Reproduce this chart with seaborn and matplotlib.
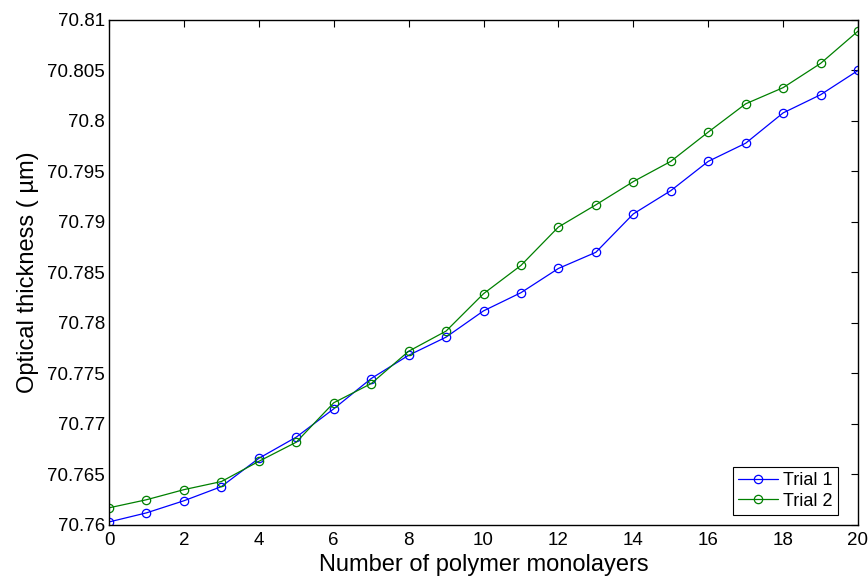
import matplotlib
matplotlib.use("Agg")
import matplotlib.pyplot as plt
import seaborn as sns
import pandas as pd
from matplotlib.ticker import FuncFormatter, MultipleLocator

layers = list(range(21))
trial1 = [70.7603, 70.7612, 70.7624, 70.7638, 70.7666, 70.7687, 70.7715, 70.7745,
          70.7768, 70.7786, 70.7812, 70.7830, 70.7854, 70.7870, 70.7908, 70.7931,
          70.7960, 70.7978, 70.8008, 70.8026, 70.8050]
trial2 = [70.7617, 70.7625, 70.7635, 70.7643, 70.7663, 70.7682, 70.7721, 70.7740,
          70.7772, 70.7792, 70.7829, 70.7857, 70.7895, 70.7917, 70.7940, 70.7960,
          70.7989, 70.8017, 70.8033, 70.8057, 70.8089]
series_names = ["Trial 1", "Trial 2"]
series_colors = ["#0000ff", "#008000"]

sns.set_style("white")
plt.rcParams["font.family"] = ["Liberation Sans", "DejaVu Sans"]
plt.rcParams["text.color"] = "black"
plt.rcParams["axes.labelcolor"] = "black"
plt.rcParams["xtick.color"] = "black"
plt.rcParams["ytick.color"] = "black"

fig = plt.figure(figsize=(8.68, 5.77), dpi=100)
ax = fig.add_axes([109/868, 1-525/577, (858-109)/868, (525-20)/577])

for name, vals, col in zip(series_names, [trial1, trial2], series_colors):
    df = pd.DataFrame({"x": layers, "y": vals})
    sns.lineplot(data=df, x="x", y="y", ax=ax, color=col, label=name,
                 marker="o", markersize=6, markerfacecolor="none",
                 markeredgecolor=col, markeredgewidth=0.9, linewidth=0.9)

ax.set_xlim(0, 20)
ax.set_ylim(70.76, 70.81)
ax.xaxis.set_major_locator(MultipleLocator(2))
ax.yaxis.set_major_locator(MultipleLocator(0.005))
ax.yaxis.set_major_formatter(FuncFormatter(lambda v, p: "%g" % round(v, 4)))
ax.xaxis.set_major_formatter(FuncFormatter(lambda v, p: "%g" % v))

ax.tick_params(direction="in", length=5, width=0.8, top=True, right=True,
               labelsize=13.5, colors="black", pad=3)
ax.tick_params(axis="x", pad=5)
for s in ax.spines.values():
    s.set_color("black")
    s.set_linewidth(1.0)

ax.set_xlabel("Number of polymer monolayers", fontsize=17, labelpad=4, color="black")
ax.set_ylabel("Optical thickness ( µm)", fontsize=17, labelpad=6, color="black")

leg = ax.legend(loc="lower right", bbox_to_anchor=((838-109)/749, (525-515)/505),
                borderaxespad=0, fontsize=13, frameon=True, fancybox=False,
                edgecolor="black", framealpha=1,
                handlelength=2.2, handletextpad=0.3, borderpad=0.3, labelspacing=0.2)
leg.get_frame().set_linewidth(0.8)
for t in leg.get_texts():
    t.set_color("black")

fig.savefig("out.png", dpi=100)
